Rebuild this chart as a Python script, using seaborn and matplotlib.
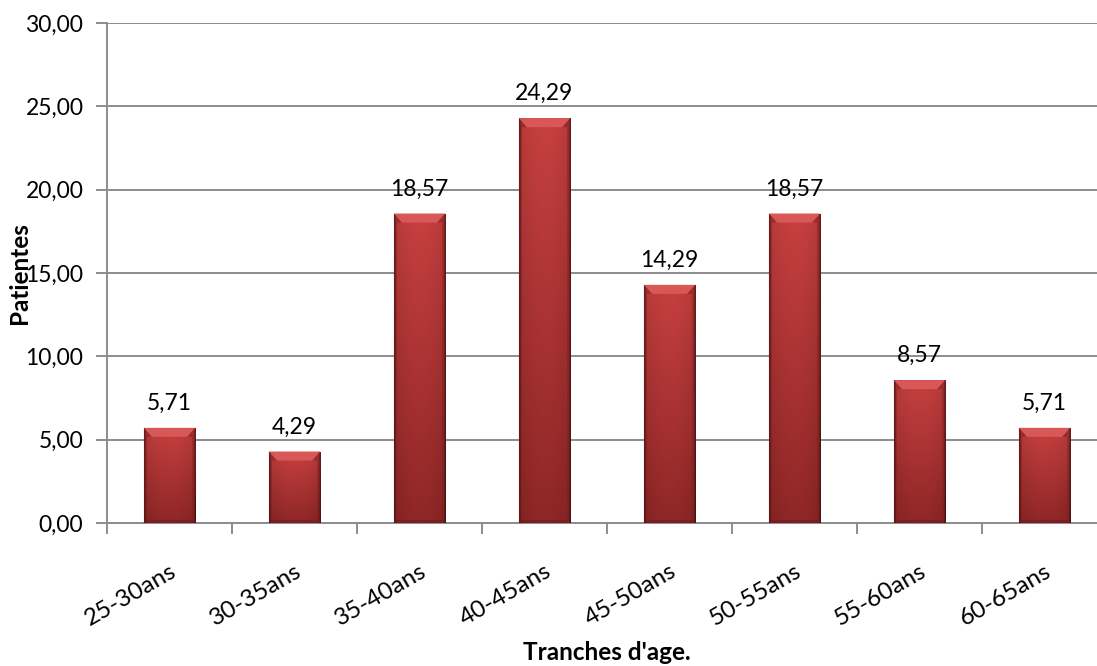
import numpy as np
import pandas as pd
import matplotlib
matplotlib.use("Agg")
import matplotlib.pyplot as plt
from matplotlib.patches import Polygon
import seaborn as sns

categories = ["25-30ans", "30-35ans", "35-40ans", "40-45ans",
              "45-50ans", "50-55ans", "55-60ans", "60-65ans"]
values = [5.71, 4.29, 18.57, 24.29, 14.29, 18.57, 8.57, 5.71]
y_ticks = [0, 5, 10, 15, 20, 25, 30]

df = pd.DataFrame({"tranche": categories, "patientes": values})

sns.set_theme(style="white")
plt.rcParams["font.family"] = ["Lato", "DejaVu Sans"]

W, H = 1097, 666
fig = plt.figure(figsize=(W / 100, H / 100), dpi=100)
# plot area: x from 107 px to 1107 px (runs past right edge), y from 23 px to 523 px
ax = fig.add_axes([107 / W, 1 - 523 / H, 1000 / W, 500 / H])

sns.barplot(data=df, x="tranche", y="patientes", color="#B83636",
            width=0.41, ax=ax, saturation=1, edgecolor="none", zorder=3)

ax.set_xlim(-0.5, len(categories) - 0.5)
ax.set_ylim(0, 30)
ax.set_yticks(y_ticks)
ax.set_yticklabels([f"{v:.2f}".replace(".", ",") for v in y_ticks], fontsize=16.5)
ax.yaxis.grid(True, color="#8C8C8C", linewidth=1.4, zorder=0)
ax.set_axisbelow(True)

for side in ["right", "top"]:
    ax.spines[side].set_visible(False)
for side in ["left", "bottom"]:
    ax.spines[side].set_color("#8C8C8C")
    ax.spines[side].set_linewidth(1.4)

ax.tick_params(axis="y", length=8, width=1.4, color="#8C8C8C", left=True, pad=9)
# category boundary ticks on x
ax.set_xticks(np.arange(len(categories) + 1) - 0.5, minor=True)
ax.tick_params(axis="x", which="minor", length=8, width=1.4, color="#8C8C8C", bottom=True)
ax.tick_params(axis="x", which="major", length=0, pad=27)
ax.set_xticks(range(len(categories)))
ax.set_xticklabels(categories, fontsize=17.5, rotation=30, ha="right",
                   rotation_mode="anchor")
for lab in ax.get_xticklabels():
    lab.set_color("black")
for lab in ax.get_yticklabels():
    lab.set_color("black")

ax.set_xlabel("")
ax.set_ylabel("")

# shaded bars with a light bevel on top
px_x = 1.0 / 125.0        # data units per pixel horizontally
px_y = 30.0 / 500.0       # data units per pixel vertically
top_col = np.array([0.78, 0.25, 0.25])
bot_col = np.array([0.56, 0.15, 0.15])
for patch, v in zip(ax.patches, values):
    x0 = patch.get_x()
    w = patch.get_width()
    h = patch.get_height()
    nrow, ncol = 200, 60
    t = np.linspace(0, 1, nrow)[:, None, None]
    col = top_col * (1 - t) + bot_col * t
    xs = np.linspace(-1, 1, ncol)
    shade = 1.0 - 0.10 * xs ** 2
    shade[:2] *= 0.55
    shade[-2:] *= 0.55
    img = np.clip(col * shade[None, :, None], 0, 1)
    im = ax.imshow(img, extent=[x0, x0 + w, 0, h], aspect="auto",
                   zorder=4, interpolation="bilinear")
    im.set_clip_path(patch)
    bev_h = 9 * px_y
    bev_w = 8 * px_x
    bevel = Polygon([[x0, h], [x0 + w, h], [x0 + w - bev_w, h - bev_h],
                     [x0 + bev_w, h - bev_h]], closed=True,
                    facecolor="#D85858", edgecolor="none", zorder=5)
    ax.add_patch(bevel)
    side_w = 3 * px_x
    for sx, sgn in ((x0, 1), (x0 + w, -1)):
        ax.add_patch(Polygon([[sx, h], [sx + sgn * bev_w, h - bev_h],
                              [sx + sgn * side_w, h - bev_h],
                              [sx + sgn * side_w, 3 * px_y], [sx, 0]],
                             closed=True, facecolor="#7A1C1C", alpha=0.45,
                             edgecolor="none", zorder=5))
    ax.add_patch(Polygon([[x0, 0], [x0 + w, 0], [x0 + w - side_w, 3 * px_y],
                          [x0 + side_w, 3 * px_y]], closed=True,
                         facecolor="#6E1919", alpha=0.5, edgecolor="none", zorder=5))
    patch.set_visible(False)
    ax.text(x0 + w / 2, h + 14 * px_y, f"{v:.2f}".replace(".", ","),
            ha="center", va="bottom", fontsize=16.5, color="black", zorder=6)

fig.text(20 / W, 1 - 273 / H, "Patientes", rotation=90, ha="center", va="center",
         fontsize=17.5, fontweight="bold", color="black")
fig.text(607 / W, 1 - 652 / H, "Tranches d'age.", ha="center", va="center",
         fontsize=17.5, fontweight="bold", color="black")

fig.savefig("out.png", dpi=100)
